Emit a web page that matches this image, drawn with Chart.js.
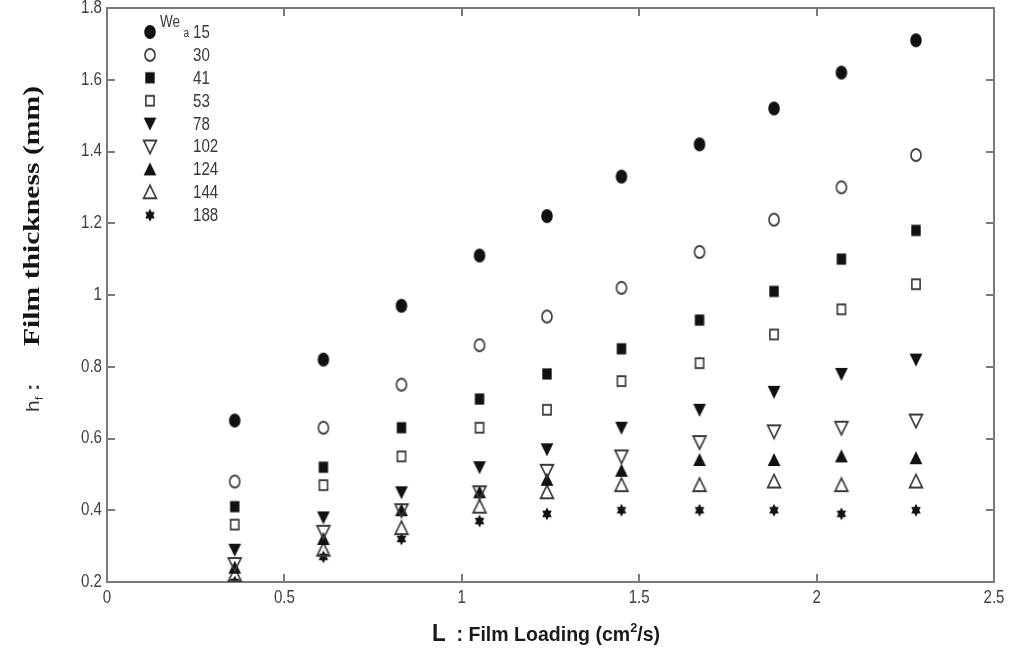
<!DOCTYPE html>
<html>
<head>
<meta charset="utf-8">
<script src="https://cdn.jsdelivr.net/npm/chart.js@4.4.0/dist/chart.umd.min.js"></script>
<style>
    html, body { margin: 0; padding: 0; background: #fff; }
    #wrap { width: 1010px; height: 649px; position: relative; }
</style>
</head>
<body>
<div id="wrap"><canvas id="chart"></canvas></div>
<script>
// film loading L (cm2/s), same for every series
var loading = [0.36, 0.61, 0.83, 1.05, 1.24, 1.45, 1.67, 1.88, 2.07, 2.28];

// Weber numbers (legend)
var weNumbers = ['15', '30', '41', '53', '78', '102', '124', '144', '188'];

// film thickness hf (mm) per Weber number
var we15  = [0.65, 0.82, 0.97, 1.11, 1.22, 1.33, 1.42, 1.52, 1.62, 1.71];
var we30  = [0.48, 0.63, 0.75, 0.86, 0.94, 1.02, 1.12, 1.21, 1.30, 1.39];
var we41  = [0.41, 0.52, 0.63, 0.71, 0.78, 0.85, 0.93, 1.01, 1.10, 1.18];
var we53  = [0.36, 0.47, 0.55, 0.63, 0.68, 0.76, 0.81, 0.89, 0.96, 1.03];
var we78  = [0.29, 0.38, 0.45, 0.52, 0.57, 0.63, 0.68, 0.73, 0.78, 0.82];
var we102 = [0.25, 0.34, 0.40, 0.45, 0.51, 0.55, 0.59, 0.62, 0.63, 0.65];
var we124 = [0.24, 0.32, 0.40, 0.45, 0.485, 0.51, 0.54, 0.54, 0.55, 0.545];
var we144 = [0.22, 0.29, 0.35, 0.41, 0.45, 0.47, 0.47, 0.48, 0.47, 0.48];
var we188 = [0.20, 0.27, 0.32, 0.37, 0.39, 0.40, 0.40, 0.40, 0.39, 0.40];

var xTicks = [0, 0.5, 1, 1.5, 2, 2.5];
var xTickLabels = ['0', '0.5', '1', '1.5', '2', '2.5'];
var yTicks = [0.2, 0.4, 0.6, 0.8, 1.0, 1.2, 1.4, 1.6, 1.8];
var yTickLabels = ['0.2', '0.4', '0.6', '0.8', '1', '1.2', '1.4', '1.6', '1.8'];

var series = [we15, we30, we41, we53, we78, we102, we124, we144, we188];
var markerKinds = ['circleF', 'circleO', 'squareF', 'squareO', 'triDownF', 'triDownO', 'triUpF', 'triUpO', 'hexF'];

// the source picture is squeezed sideways a bit, so markers and text get the same squeeze
var SQX = 0.84;

function makeMarker(kind)
{
    var c = document.createElement('canvas');
    c.width = 20;
    c.height = 20;
    var g = c.getContext('2d');
    g.translate(10, 10);
    g.scale(SQX, 1);
    g.fillStyle = '#111';
    g.strokeStyle = '#3a3a3a';
    g.lineWidth = 1.9;
    g.beginPath();
    if (kind == 'circleF') {
        g.arc(0, 0, 6.9, 0, Math.PI * 2);
        g.fill();
    } else if (kind == 'circleO') {
        g.arc(0, 0, 6.0, 0, Math.PI * 2);
        g.stroke();
    } else if (kind == 'squareF') {
        g.fillRect(-5.6, -5.6, 11.2, 11.2);
    } else if (kind == 'squareO') {
        g.strokeRect(-4.9, -4.9, 9.8, 9.8);
    } else if (kind == 'triDownF' || kind == 'triDownO') {
        g.moveTo(-7.6, -6); g.lineTo(7.6, -6); g.lineTo(0, 7); g.closePath();
        if (kind == 'triDownF') g.fill(); else g.stroke();
    } else if (kind == 'triUpF' || kind == 'triUpO') {
        g.moveTo(-7.6, 6); g.lineTo(7.6, 6); g.lineTo(0, -7); g.closePath();
        if (kind == 'triUpF') g.fill(); else g.stroke();
    } else if (kind == 'hexF') {
        var r = 6.6;
        for (var k = 0; k < 2; k++) {
            var off = k * Math.PI / 3 - Math.PI / 2;
            g.moveTo(r * Math.cos(off), r * Math.sin(off));
            g.lineTo(r * Math.cos(off + 2 * Math.PI / 3), r * Math.sin(off + 2 * Math.PI / 3));
            g.lineTo(r * Math.cos(off + 4 * Math.PI / 3), r * Math.sin(off + 4 * Math.PI / 3));
            g.closePath();
        }
        g.fill();
    }
    return c;
}

var markers = markerKinds.map(makeMarker);

var datasets = series.map(function(vals, i) {
    return {
        label: weNumbers[i],
        data: loading.map(function(x, j) { return {x: x, y: vals[j]}; }),
        pointStyle: markers[i],
        pointRadius: 7,
        pointHoverRadius: 7,
        showLine: false
    };
});

// draw a run of text pieces with their own fonts
function drawPieces(ctx, pieces)
{
    var x = 0;
    pieces.forEach(function(p) {
        ctx.font = p.font;
        ctx.fillStyle = p.color || '#222';
        ctx.fillText(p.t, x + (p.dx || 0), p.dy || 0);
        x += ctx.measureText(p.t).width + (p.dx || 0);
    });
    return x;
}

function piecesWidth(ctx, pieces)
{
    var w = 0;
    pieces.forEach(function(p) {
        ctx.font = p.font;
        w += ctx.measureText(p.t).width + (p.dx || 0);
    });
    return w;
}

var SANS = '"Liberation Sans", Arial, sans-serif';

var framePlugin = {
    id: 'frame',
    beforeDatasetsDraw: function(chart)
    {
        var ctx = chart.ctx, a = chart.chartArea;
        var xs = chart.scales.x, ys = chart.scales.y;
        ctx.save();
        ctx.strokeStyle = '#7a7a7a';
        ctx.lineWidth = 2;
        ctx.strokeRect(a.left, a.top, a.right - a.left, a.bottom - a.top);
        ctx.beginPath();
        xTicks.forEach(function(v) {
            var px = Math.round(xs.getPixelForValue(v));
            ctx.moveTo(px, a.bottom); ctx.lineTo(px, a.bottom - 8);
            ctx.moveTo(px, a.top); ctx.lineTo(px, a.top + 8);
        });
        yTicks.forEach(function(v) {
            var py = Math.round(ys.getPixelForValue(v));
            ctx.moveTo(a.left, py); ctx.lineTo(a.left + 8, py);
            ctx.moveTo(a.right, py); ctx.lineTo(a.right - 8, py);
        });
        ctx.stroke();
        ctx.restore();
    },
    afterDraw: function(chart)
    {
        var ctx = chart.ctx, a = chart.chartArea;
        var xs = chart.scales.x, ys = chart.scales.y;
        ctx.save();

        // tick labels
        ctx.fillStyle = '#404040';
        ctx.font = '18px ' + SANS;
        ctx.textAlign = 'center';
        ctx.textBaseline = 'top';
        xTicks.forEach(function(v, i) {
            ctx.save();
            ctx.translate(xs.getPixelForValue(v), a.bottom + 7);
            ctx.scale(SQX, 1);
            ctx.fillText(xTickLabels[i], 0, 0);
            ctx.restore();
        });
        ctx.textAlign = 'right';
        ctx.textBaseline = 'middle';
        yTicks.forEach(function(v, i) {
            ctx.save();
            ctx.translate(a.left - 5, ys.getPixelForValue(v));
            ctx.scale(SQX, 1);
            ctx.fillText(yTickLabels[i], 0, 0);
            ctx.restore();
        });

        // x title, fitted to the width it has in the source
        ctx.textAlign = 'left';
        ctx.textBaseline = 'alphabetic';
        var xt = [
            {t: 'L', font: 'bold 23px ' + SANS, color: '#1a1a1a'},
            {t: '  : Film Loading (cm', font: 'bold 20px ' + SANS, color: '#1a1a1a'},
            {t: '2', font: 'bold 13px ' + SANS, color: '#1a1a1a', dy: -9},
            {t: '/s)', font: 'bold 20px ' + SANS, color: '#1a1a1a'}
        ];
        var w = piecesWidth(ctx, xt);
        var sx = 228 / w;
        ctx.save();
        ctx.translate(432, 641);
        ctx.scale(sx, 1);
        drawPieces(ctx, xt);
        ctx.restore();

        // y title, read bottom to top
        ctx.save();
        ctx.translate(39, 412);
        ctx.scale(SQX, 1);
        ctx.rotate(-Math.PI / 2);
        var yh = [
            {t: 'h', font: '21px ' + SANS, color: '#333'},
            {t: 'f', font: '13px ' + SANS, color: '#333', dy: 5},
            {t: ' :', font: 'bold 21px ' + SANS, color: '#333'}
        ];
        drawPieces(ctx, yh);
        ctx.restore();

        var serifText = 'Film thickness (mm)';
        ctx.font = 'bold 27px "Liberation Serif", "Times New Roman", serif';
        var sw = ctx.measureText(serifText).width;
        ctx.save();
        ctx.translate(39, 346);
        ctx.scale(SQX, 1);
        ctx.rotate(-Math.PI / 2);
        ctx.scale(260 / sw, 1);
        ctx.fillStyle = '#141414';
        ctx.fillText(serifText, 0, 0);
        ctx.restore();

        // legend
        var rowY = 32, rowGap = 22.9;
        chart.data.datasets.forEach(function(ds, i) {
            var y = rowY + i * rowGap;
            var m = markers[i];
            ctx.drawImage(m, 150 - m.width / 2, y - m.height / 2);
            ctx.save();
            ctx.translate(193, y);
            ctx.scale(SQX, 1);
            ctx.fillStyle = '#383838';
            ctx.textBaseline = 'middle';
            ctx.font = '18px ' + SANS;
            ctx.fillText(ds.label, 0, 1);
            ctx.restore();
        });
        ctx.save();
        ctx.translate(160, 27);
        ctx.scale(SQX, 1);
        ctx.fillStyle = '#383838';
        ctx.font = '16px ' + SANS;
        ctx.fillText('We', 0, 0);
        ctx.font = '12px ' + SANS;
        ctx.fillText('a', 28, 10);
        ctx.restore();

        ctx.restore();
    }
};

var chart = new Chart(document.getElementById('chart'), {
    type: 'scatter',
    data: { datasets: datasets },
    options: {
        responsive: true,
        maintainAspectRatio: false,
        animation: false,
        events: [],
        layout: { padding: { top: 8, right: 16, left: 0, bottom: 0 } },
        plugins: {
            legend: { display: false },
            tooltip: { enabled: false }
        },
        scales: {
            x: {
                type: 'linear',
                min: 0,
                max: 2.5,
                grid: { display: false },
                border: { display: false },
                ticks: { display: false },
                afterFit: function(s) { s.height = 67; }
            },
            y: {
                type: 'linear',
                min: 0.2,
                max: 1.8,
                grid: { display: false },
                border: { display: false },
                ticks: { display: false },
                afterFit: function(s) { s.width = 107; }
            }
        }
    },
    plugins: [framePlugin]
});
</script>
</body>
</html>
